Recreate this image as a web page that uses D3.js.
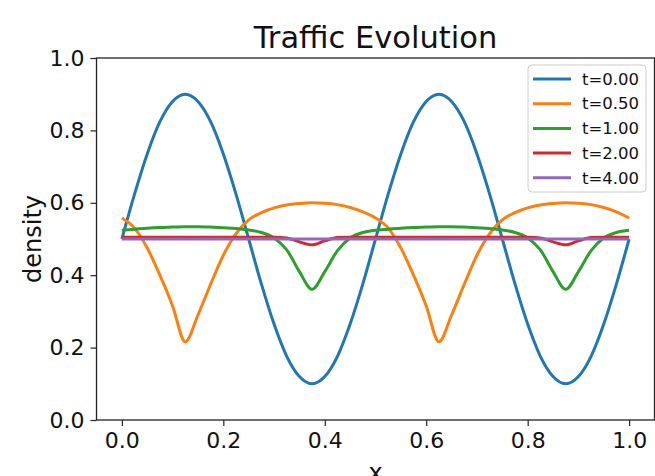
<!DOCTYPE html>
<html><head><meta charset="utf-8">
<script src="https://cdn.jsdelivr.net/npm/d3@7"></script>
<style>body{margin:0;background:#fff} svg{display:block} text{font-family:"DejaVu Sans",sans-serif;fill:#111}</style>
</head><body><svg id="c" width="655" height="476"></svg>
<script>
const xs = [0,0.025,0.05,0.075,0.1,0.125,0.15,0.175,0.2,0.225,0.25,0.275,0.3,0.325,0.35,0.375,0.4,0.425,0.45,0.475,
            0.5,0.525,0.55,0.575,0.6,0.625,0.65,0.675,0.7,0.725,0.75,0.775,0.8,0.825,0.85,0.875,0.9,0.925,0.95,0.975,1.0];
const rhoT0 = [0.5,0.624,0.735,0.824,0.880,0.9,0.880,0.824,0.735,0.624,0.5,0.376,0.265,0.176,0.120,0.1,0.120,0.176,0.265,0.376,
               0.5,0.624,0.735,0.824,0.880,0.9,0.880,0.824,0.735,0.624,0.5,0.376,0.265,0.176,0.120,0.1,0.120,0.176,0.265,0.376,0.5];
const rhoT05 = [0.558,0.530,0.475,0.400,0.315,0.216,0.290,0.375,0.455,0.515,0.553,0.573,0.586,0.594,0.598,0.600,0.599,0.595,0.587,0.575,
                0.558,0.530,0.475,0.400,0.315,0.216,0.290,0.375,0.455,0.515,0.553,0.573,0.586,0.594,0.598,0.600,0.599,0.595,0.587,0.575,0.558];
const rhoT1 = [0.524,0.527,0.530,0.532,0.533,0.534,0.534,0.533,0.531,0.529,0.525,0.518,0.503,0.470,0.410,0.361,0.410,0.468,0.503,0.518,
               0.524,0.527,0.530,0.532,0.533,0.534,0.534,0.533,0.531,0.529,0.525,0.518,0.503,0.470,0.410,0.361,0.410,0.468,0.503,0.518,0.524];
const rhoT2 = [0.505,0.505,0.505,0.505,0.505,0.505,0.505,0.505,0.505,0.505,0.505,0.505,0.505,0.503,0.492,0.484,0.495,0.504,0.505,0.505,
               0.505,0.505,0.505,0.505,0.505,0.505,0.505,0.505,0.505,0.505,0.505,0.505,0.505,0.503,0.492,0.484,0.495,0.504,0.505,0.505,0.505];
const rhoT4 = [0.5,0.5,0.5,0.5,0.5,0.5,0.5,0.5,0.5,0.5,0.5,0.5,0.5,0.5,0.5,0.5,0.5,0.5,0.5,0.5,
               0.5,0.5,0.5,0.5,0.5,0.5,0.5,0.5,0.5,0.5,0.5,0.5,0.5,0.5,0.5,0.5,0.5,0.5,0.5,0.5,0.5];
const seriesLabels = ["t=0.00","t=0.50","t=1.00","t=2.00","t=4.00"];
const seriesColors = ["#1f77b4","#ff7f0e","#2ca02c","#d62728","#9467bd"];
const xTicks = [0,0.2,0.4,0.6,0.8,1.0];
const yTicks = [0,0.2,0.4,0.6,0.8,1.0];

const series = [rhoT0,rhoT05,rhoT1,rhoT2,rhoT4];
const svg = d3.select("#c");
svg.append("rect").attr("width",655).attr("height",476).attr("fill","#fff");
const m = {left:96.5,right:654.5,top:58,bottom:420};
const x = d3.scaleLinear().domain([-0.05,1.05]).range([m.left,m.right]);
const y = d3.scaleLinear().domain([0,1]).range([m.bottom,m.top]);

const line = d3.line().x((d,i)=>x(xs[i])).y(d=>y(d)).curve(d3.curveMonotoneX);
svg.append("clipPath").attr("id","clp").append("rect")
  .attr("x",m.left).attr("y",m.top).attr("width",m.right-m.left).attr("height",m.bottom-m.top);
const g = svg.append("g").attr("clip-path","url(#clp)");
series.forEach((s,i)=>{
  g.append("path").attr("d",line(s)).attr("fill","none")
   .attr("stroke",seriesColors[i]).attr("stroke-width",3).attr("stroke-linecap","butt").attr("stroke-linejoin","round");
});

const xa = svg.append("g").attr("transform",`translate(0,${m.bottom})`)
  .call(d3.axisBottom(x).tickValues(xTicks).tickFormat(d3.format(".1f")).tickSize(6).tickPadding(6));
const ya = svg.append("g").attr("transform",`translate(${m.left},0)`)
  .call(d3.axisLeft(y).tickValues(yTicks).tickFormat(d3.format(".1f")).tickSize(6).tickPadding(6));
[xa,ya].forEach(a=>{
  a.select(".domain").remove();
  a.selectAll(".tick line").attr("stroke","#222").attr("stroke-width",1.2);
  a.selectAll(".tick text").attr("font-size",22).attr("font-family","DejaVu Sans").attr("fill","#111");
});

svg.append("rect").attr("x",m.left).attr("y",m.top).attr("width",m.right-m.left).attr("height",m.bottom-m.top)
  .attr("fill","none").attr("stroke","#222").attr("stroke-width",1.3);

svg.append("text").attr("x",(m.left+m.right)/2).attr("y",48).attr("text-anchor","middle")
  .attr("font-size",30.5).text("Traffic Evolution");
svg.append("text").attr("x",(m.left+m.right)/2).attr("y",481).attr("text-anchor","middle")
  .attr("font-size",24).text("x");
svg.append("text").attr("transform",`translate(41,${(m.top+m.bottom)/2}) rotate(-90)`).attr("text-anchor","middle")
  .attr("font-size",24).text("density");

const lg = svg.append("g");
lg.append("rect").attr("x",528).attr("y",65).attr("width",118).attr("height",127).attr("rx",4)
  .attr("fill","#fff").attr("fill-opacity",0.8).attr("stroke","#ccc").attr("stroke-width",1);
seriesLabels.forEach((lab,i)=>{
  const yy = 79 + i*24.7;
  lg.append("line").attr("x1",533).attr("x2",571).attr("y1",yy).attr("y2",yy)
    .attr("stroke",seriesColors[i]).attr("stroke-width",3);
  lg.append("text").attr("x",582).attr("y",yy).attr("dy","0.35em").attr("font-size",16.5).text(lab);
});
</script></body></html>
